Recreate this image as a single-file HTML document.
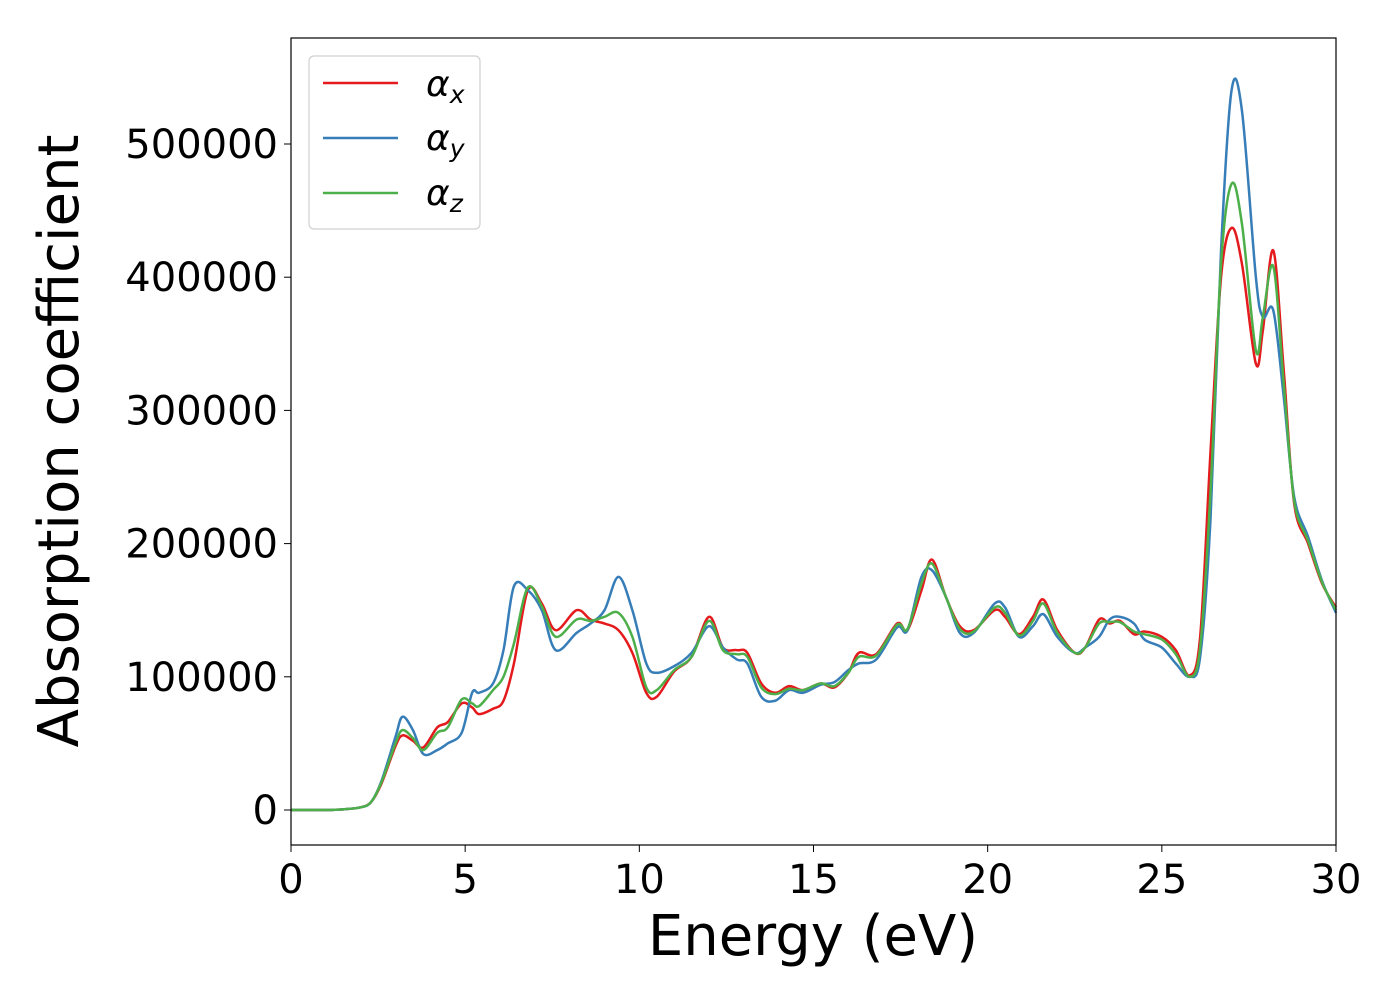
<!DOCTYPE html>
<html><head><meta charset="utf-8"><style>
body{margin:0;background:#fff;}
svg text{font-family:"DejaVu Sans","Liberation Sans",sans-serif;fill:#000;}
</style></head><body>
<svg id="chart" width="1400" height="1000" xmlns="http://www.w3.org/2000/svg">
<rect x="0" y="0" width="1400" height="1000" fill="#fff"/>
<g id="plot"></g>
<rect x="291" y="38" width="1045" height="807" fill="none" stroke="#000" stroke-width="1.2"/>
<g id="xticks"></g>
<g id="yticks"></g>
<text x="813" y="955" font-size="56" text-anchor="middle">Energy (eV)</text>
<text transform="translate(78,441) rotate(-90)" font-size="56" text-anchor="middle">Absorption coefficient</text>
<g>
<rect x="309" y="56" width="171" height="173" rx="5" fill="#fff" stroke="#ccc" stroke-width="1.2" opacity="0.9"/>
<g><line x1="323" y1="83" x2="398" y2="83" stroke="#e41a1c" stroke-width="2.5"/><text x="426" y="96" font-size="36" font-style="italic">α<tspan font-size="25" dy="7">x</tspan></text></g>
<g><line x1="323" y1="138" x2="398" y2="138" stroke="#377eb8" stroke-width="2.5"/><text x="426" y="150" font-size="36" font-style="italic">α<tspan font-size="25" dy="7">y</tspan></text></g>
<g><line x1="323" y1="193" x2="398" y2="193" stroke="#4daf4a" stroke-width="2.5"/><text x="426" y="205" font-size="36" font-style="italic">α<tspan font-size="25" dy="7">z</tspan></text></g>
</g>
</svg>
<script>
const energyX=[0,1,1.5,2,2.3,2.6,3.0,3.2,3.5,3.8,4.2,4.5,4.9,5.2,5.4,5.8,6.1,6.4,6.8,7.2,7.6,8.2,8.6,9.0,9.4,9.8,10.2,10.5,11,11.5,12,12.4,12.8,13.1,13.5,13.9,14.3,14.7,15.2,15.6,16,16.3,16.8,17.4,17.7,18.1,18.4,18.8,19.2,19.6,20.2,20.5,20.9,21.3,21.6,22,22.5,22.8,23.2,23.5,23.8,24.2,24.5,25.0,25.4,25.8,26.1,26.4,26.7,27.0,27.3,27.7,27.9,28.2,28.5,28.8,29.2,29.6,30];
const alphaX=[0,0,500,2000,6000,20000,48000,56000,52000,47000,62000,66000,80000,77000,72000,76000,82000,110000,165000,155000,135000,150000,143000,140000,135000,118000,88000,85000,104000,115000,145000,122000,120000,118000,95000,88000,93000,90000,95000,92000,103000,118000,117000,140000,135000,165000,188000,160000,138000,135000,150000,145000,132000,145000,158000,135000,118000,122000,143000,140000,142000,132000,134000,130000,120000,101000,130000,270000,400000,437000,410000,335000,360000,420000,330000,230000,200000,170000,152000];
const alphaY=[0,0,500,2000,6000,22000,55000,70000,60000,42000,45000,50000,58000,88000,88000,95000,120000,168000,165000,150000,120000,133000,140000,150000,175000,150000,110000,103000,108000,118000,138000,122000,113000,110000,85000,82000,90000,88000,94000,96000,105000,110000,113000,137000,135000,175000,180000,160000,133000,133000,155000,152000,130000,138000,147000,130000,118000,122000,130000,143000,145000,140000,128000,122000,110000,100000,115000,220000,420000,540000,525000,400000,370000,375000,310000,235000,205000,172000,148000];
const alphaZ=[0,0,500,2000,6000,21000,50000,60000,54000,45000,58000,62000,83000,80000,78000,90000,100000,125000,167000,153000,130000,143000,142000,145000,148000,130000,92000,90000,105000,115000,142000,120000,117000,115000,92000,87000,91000,90000,95000,93000,103000,115000,116000,139000,136000,170000,185000,160000,136000,134000,152000,148000,131000,142000,155000,133000,118000,122000,140000,141000,141000,134000,132000,128000,117000,100000,122000,240000,410000,470000,440000,345000,370000,408000,320000,232000,202000,171000,150000];
const xTicks=[0,5,10,15,20,25,30];
const yTicks=[0,100000,200000,300000,400000,500000];
const X0=291,X1=1336,YB=810,YS=666/500000;
const xs=v=>X0+(v/30)*(X1-X0);
const ys=v=>YB-v*YS;
const NS="http://www.w3.org/2000/svg";
function pathFor(ex,vals){
  const p=ex.map((e,i)=>[xs(e),ys(vals[i])]);
  let d="M"+p[0][0]+","+p[0][1];
  for(let i=0;i<p.length-1;i++){
    const p0=p[Math.max(0,i-1)],p1=p[i],p2=p[i+1],p3=p[Math.min(p.length-1,i+2)];
    const t=1/6;
    d+=" C"+(p1[0]+(p2[0]-p0[0])*t)+","+(p1[1]+(p2[1]-p0[1])*t)+" "+(p2[0]-(p3[0]-p1[0])*t)+","+(p2[1]-(p3[1]-p1[1])*t)+" "+p2[0]+","+p2[1];
  }
  return d;
}
const plot=document.getElementById("plot");
[[alphaX,"#e41a1c","series-alpha-x"],[alphaY,"#377eb8","series-alpha-y"],[alphaZ,"#4daf4a","series-alpha-z"]].forEach(s=>{
  const el=document.createElementNS(NS,"path");
  el.setAttribute("d",pathFor(energyX,s[0]));
  el.setAttribute("fill","none");el.setAttribute("stroke",s[1]);el.setAttribute("stroke-width","2.5");
  
  
  plot.appendChild(el);
});
const xg=document.getElementById("xticks");
xTicks.forEach(t=>{
  const l=document.createElementNS(NS,"line");
  l.setAttribute("x1",xs(t));l.setAttribute("x2",xs(t));l.setAttribute("y1",845);l.setAttribute("y2",852);l.setAttribute("stroke","#000");
  
  
  xg.appendChild(l);
  const tx=document.createElementNS(NS,"text");
  tx.setAttribute("x",xs(t));tx.setAttribute("y",893);tx.setAttribute("font-size","40");tx.setAttribute("text-anchor","middle");
  tx.textContent=t;
  
  
  xg.appendChild(tx);
});
const yg=document.getElementById("yticks");
yTicks.forEach(t=>{
  const l=document.createElementNS(NS,"line");
  l.setAttribute("x1",284);l.setAttribute("x2",291);l.setAttribute("y1",ys(t));l.setAttribute("y2",ys(t));l.setAttribute("stroke","#000");
  
  
  yg.appendChild(l);
  const tx=document.createElementNS(NS,"text");
  tx.setAttribute("x",278);tx.setAttribute("y",ys(t)+14);tx.setAttribute("font-size","40");tx.setAttribute("text-anchor","end");
  tx.textContent=t;
  
  
  yg.appendChild(tx);
});
</script>
</body></html>
